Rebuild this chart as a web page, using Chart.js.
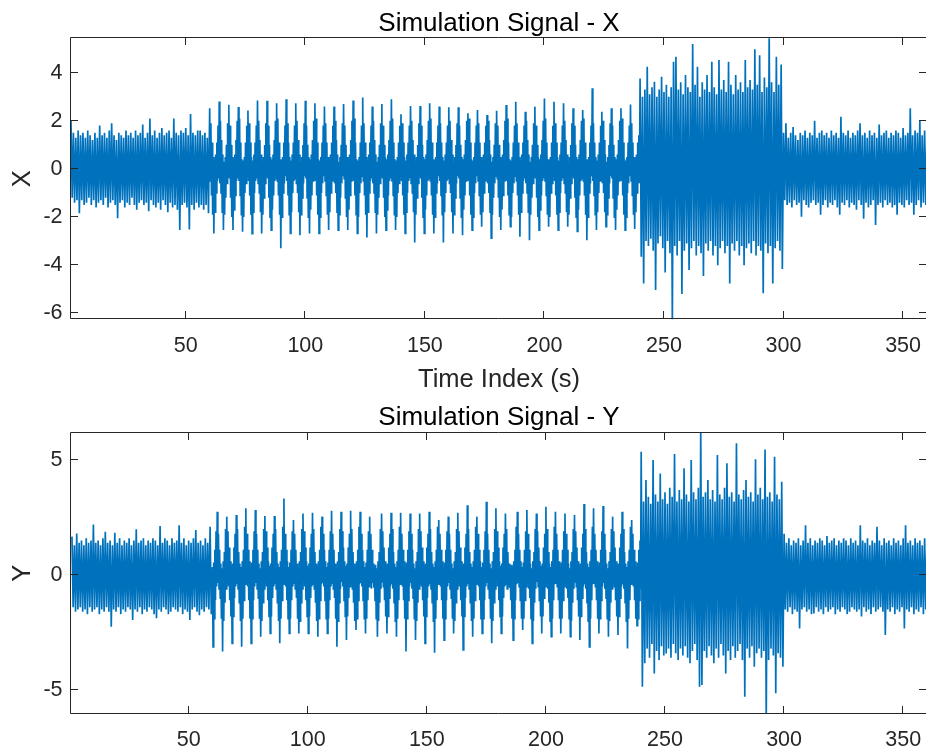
<!DOCTYPE html>
<html>
<head>
<meta charset="utf-8">
<script src="https://cdn.jsdelivr.net/npm/chart.js@4.4.1/dist/chart.umd.min.js"></script>
<style>
  html, body { margin: 0; padding: 0; background: #ffffff; width: 926px; height: 751px; overflow: hidden; }
  .panel { position: absolute; left: 0; }
  #p1 { top: 0; }
  #p2 { top: 395px; }
</style>
</head>
<body>
<div class="panel" id="p1"><canvas id="cX" width="930" height="395"></canvas></div>
<div class="panel" id="p2"><canvas id="cY" width="930" height="356"></canvas></div>
<script>
// ---------------- DATA ----------------
// Each segment lists successive samples that swing between the upper and lower
// edge of the trace; "start" is the time of the first sample, "step" the spacing (s).
const xTicksTime = [50, 100, 150, 200, 250, 300, 350];
const yTicksX = [-6, -4, -2, 0, 2, 4];
const yTicksY = [-5, 0, 5];

// ---- Signal X ----
// quiet noise, t = 2 .. 59.5 (step 0.5)
const xQuiet1 = [
  2.0,-1.2, 1.5,-1.4, 1.3,-1.3, 1.6,-1.84, 1.4,-1.3, 1.5,-1.5, 1.3,-1.4, 1.6,-1.2, 1.4,-1.5, 1.2,-1.3,
  1.5,-1.6, 1.3,-1.4, 1.8,-1.3, 1.4,-1.5, 1.5,-1.2, 1.3,-1.6, 1.6,-1.4, 1.9,-1.3, 1.4,-1.5, 1.2,-2.05,
  1.5,-1.4, 1.4,-1.3, 1.3,-1.6, 1.6,-1.4, 1.4,-1.5, 1.5,-1.2, 1.3,-1.5, 1.6,-1.7, 1.4,-1.4, 1.5,-1.3,
  1.85,-1.5, 1.3,-1.4, 1.5,-1.76, 2.1,-1.3, 1.4,-1.5, 1.6,-1.6, 1.3,-1.4, 1.5,-1.7, 1.7,-1.3, 1.4,-1.5,
  1.5,-1.8, 1.6,-1.4, 1.3,-1.6, 2.1,-1.5, 1.5,-1.7, 1.4,-2.54, 1.6,-1.5, 1.5,-1.4, 1.7,-1.6, 1.4,-2.52,
  2.28,-1.5, 1.5,-1.7, 1.4,-1.4, 1.6,-1.6, 1.6,-1.5, 1.4,-1.7, 1.5,-1.5, 1.3,-1.84
];
// oscillating part, t = 60 .. 239.75 (step 0.25, one row = one 4 s cycle)
const xOscillation = [
  2.52,-0.5,1.9,-1.1,1.1,-1.9,0.5,-2.68,0.35,-1.8,0.6,-1.0,1.1,-0.5,1.8,-0.4,
  2.80,-0.6,2.0,-1.0,1.2,-1.8,0.6,-2.54,0.3,-1.9,0.5,-1.2,1.0,-0.6,1.9,-0.3,
  2.67,-0.4,1.8,-1.2,1.0,-2.0,0.5,-2.54,0.4,-1.7,0.6,-1.1,1.2,-0.5,2.0,-0.4,
  2.57,-0.5,2.1,-1.1,1.1,-1.9,0.4,-2.61,0.35,-2.0,0.5,-1.0,1.1,-0.6,1.8,-0.3,
  2.43,-0.5,1.9,-1.1,1.1,-1.9,0.5,-2.69,0.35,-1.8,0.6,-1.0,1.1,-0.5,1.8,-0.4,
  2.84,-0.6,2.0,-1.0,1.2,-1.8,0.6,-2.68,0.3,-1.9,0.5,-1.2,1.0,-0.6,1.9,-0.3,
  2.83,-0.4,1.8,-1.2,1.0,-2.0,0.5,-2.54,0.4,-1.7,0.6,-1.1,1.2,-0.5,2.0,-0.4,
  2.73,-0.5,2.1,-1.1,1.1,-1.9,0.4,-3.30,0.35,-2.0,0.5,-1.0,1.1,-0.6,1.8,-0.3,
  2.90,-0.5,1.9,-1.1,1.1,-1.9,0.5,-2.68,0.35,-1.8,0.6,-1.0,1.1,-0.5,1.8,-0.4,
  2.73,-0.6,2.0,-1.0,1.2,-1.8,0.6,-2.76,0.3,-1.9,0.5,-1.2,1.0,-0.6,1.9,-0.3,
  2.83,-0.4,1.8,-1.2,1.0,-2.0,0.5,-2.68,0.4,-1.7,0.6,-1.1,1.2,-0.5,2.0,-0.4,
  2.73,-0.5,2.1,-1.1,1.1,-1.9,0.4,-2.68,0.35,-2.0,0.5,-1.0,1.1,-0.6,1.8,-0.3,
  2.59,-0.5,1.9,-1.1,1.1,-1.9,0.5,-2.54,0.35,-1.8,0.6,-1.0,1.1,-0.5,1.8,-0.4,
  2.59,-0.6,2.0,-1.0,1.2,-1.8,0.6,-2.54,0.3,-1.9,0.5,-1.2,1.0,-0.6,1.9,-0.3,
  2.70,-0.4,1.8,-1.2,1.0,-2.0,0.5,-2.54,0.4,-1.7,0.6,-1.1,1.2,-0.5,2.0,-0.4,
  2.84,-0.5,2.1,-1.1,1.1,-1.9,0.4,-2.68,0.35,-2.0,0.5,-1.0,1.1,-0.6,1.8,-0.3,
  2.97,-0.5,1.9,-1.1,1.1,-1.9,0.5,-2.85,0.35,-1.8,0.6,-1.0,1.1,-0.5,1.8,-0.4,
  2.59,-0.6,2.0,-1.0,1.2,-1.8,0.6,-2.68,0.3,-1.9,0.5,-1.2,1.0,-0.6,1.9,-0.3,
  2.70,-0.4,1.8,-1.2,1.0,-2.0,0.5,-2.54,0.4,-1.7,0.6,-1.1,1.2,-0.5,2.0,-0.4,
  2.90,-0.5,2.1,-1.1,1.1,-1.9,0.4,-2.54,0.35,-2.0,0.5,-1.0,1.1,-0.6,1.8,-0.3,
  2.27,-0.5,1.9,-1.1,1.1,-1.9,0.5,-2.68,0.35,-1.8,0.6,-1.0,1.1,-0.5,1.8,-0.4,
  2.62,-0.6,2.0,-1.0,1.2,-1.8,0.6,-3.06,0.3,-1.9,0.5,-1.2,1.0,-0.6,1.9,-0.3,
  2.62,-0.4,1.8,-1.2,1.0,-2.0,0.5,-2.68,0.4,-1.7,0.6,-1.1,1.2,-0.5,2.0,-0.4,
  2.73,-0.5,2.1,-1.1,1.1,-1.9,0.4,-2.68,0.35,-2.0,0.5,-1.0,1.1,-0.6,1.8,-0.3,
  2.59,-0.5,1.9,-1.1,1.1,-1.9,0.5,-3.06,0.35,-1.8,0.6,-1.0,1.1,-0.5,1.8,-0.4,
  2.56,-0.6,2.0,-1.0,1.2,-1.8,0.6,-2.68,0.3,-1.9,0.5,-1.2,1.0,-0.6,1.9,-0.3,
  2.56,-0.4,1.8,-1.2,1.0,-2.0,0.5,-2.76,0.4,-1.7,0.6,-1.1,1.2,-0.5,2.0,-0.4,
  2.31,-0.5,2.1,-1.1,1.1,-1.9,0.4,-2.54,0.35,-2.0,0.5,-1.0,1.1,-0.6,1.8,-0.3,
  2.45,-0.5,1.9,-1.1,1.1,-1.9,0.5,-2.40,0.35,-1.8,0.6,-1.0,1.1,-0.5,1.8,-0.4,
  2.24,-0.6,2.0,-1.0,1.2,-1.8,0.6,-2.88,0.3,-1.9,0.5,-1.2,1.0,-0.6,1.9,-0.3,
  2.42,-0.4,1.8,-1.2,1.0,-2.0,0.5,-2.54,0.4,-1.7,0.6,-1.1,1.2,-0.5,2.0,-0.4,
  2.66,-0.5,2.1,-1.1,1.1,-1.9,0.4,-2.40,0.35,-2.0,0.5,-1.0,1.1,-0.6,1.8,-0.3,
  2.79,-0.5,1.9,-1.1,1.1,-1.9,0.5,-2.82,0.35,-1.8,0.6,-1.0,1.1,-0.5,1.8,-0.4,
  2.38,-0.6,2.0,-1.0,1.2,-1.8,0.6,-2.96,0.3,-1.9,0.5,-1.2,1.0,-0.6,1.9,-0.3,
  2.59,-0.4,1.8,-1.2,1.0,-2.0,0.5,-2.54,0.4,-1.7,0.6,-1.1,1.2,-0.5,2.0,-0.4,
  2.93,-0.5,2.1,-1.1,1.1,-1.9,0.4,-2.40,0.35,-2.0,0.5,-1.0,1.1,-0.6,1.8,-0.3,
  2.79,-0.5,1.9,-1.1,1.1,-1.9,0.5,-2.54,0.35,-1.8,0.6,-1.0,1.1,-0.5,1.8,-0.4,
  2.73,-0.6,2.0,-1.0,1.2,-1.8,0.6,-2.40,0.3,-1.9,0.5,-1.2,1.0,-0.6,1.9,-0.3,
  2.52,-0.4,1.8,-1.2,1.0,-2.0,0.5,-2.60,0.4,-1.7,0.6,-1.1,1.2,-0.5,2.0,-0.4,
  2.45,-0.5,2.1,-1.1,1.1,-1.9,0.4,-2.96,0.35,-2.0,0.5,-1.0,1.1,-0.6,1.8,-0.3,
  3.35,-0.5,1.9,-1.1,1.1,-1.9,0.5,-2.54,0.35,-1.8,0.6,-1.0,1.1,-0.5,1.8,-0.4,
  2.38,-0.6,2.0,-1.0,1.2,-1.8,0.6,-2.40,0.3,-1.9,0.5,-1.2,1.0,-0.6,1.9,-0.3,
  2.52,-0.4,1.8,-1.2,1.0,-2.0,0.5,-2.54,0.4,-1.7,0.6,-1.1,1.2,-0.5,2.0,-0.4,
  2.52,-0.5,2.1,-1.1,1.1,-1.9,0.4,-2.54,0.35,-2.0,0.5,-1.0,1.1,-0.6,1.8,-0.3,
  2.68,-0.5,1.9,-1.1,1.1,-1.9,0.5,-2.50,0.35,-1.8,0.6,-1.0,1.1,-0.5,1.4,-0.6
];
// strong burst, t = 240 .. 299.5 (step 0.5)
const xBurst = [
  3.76,-3.65, 3.0,-4.76, 3.3,-3.0, 4.25,-3.2, 3.1,-2.9, 3.4,-3.4, 3.62,-5.03, 3.0,-3.1, 3.3,-2.8, 3.83,-3.3,
  3.2,-4.3, 3.5,-3.0, 3.0,-3.5, 3.4,-6.4, 4.46,-3.2, 4.66,-3.6, 3.3,-3.0, 3.6,-5.2, 3.1,-3.4, 3.9,-3.1,
  3.4,-4.2, 3.2,-3.3, 5.19,-3.0, 3.5,-3.6, 4.25,-3.2, 3.0,-3.5, 3.6,-4.45, 3.3,-3.1, 3.9,-3.4, 3.2,-3.0,
  4.46,-3.6, 3.4,-3.2, 3.1,-4.0, 4.53,-3.3, 3.3,-3.0, 3.7,-3.5, 3.2,-3.2, 4.46,-4.76, 3.5,-3.1, 3.1,-3.4,
  3.9,-3.0, 3.3,-3.6, 3.6,-3.2, 3.2,-4.0, 4.53,-3.3, 3.4,-3.1, 3.7,-3.5, 3.3,-3.0, 4.97,-3.6, 3.5,-3.2,
  4.73,-3.4, 3.2,-5.17, 3.8,-3.1, 3.4,-3.5, 5.6,-3.2, 3.6,-4.76, 3.2,-3.3, 4.66,-3.0, 3.5,-3.4, 4.34,-4.16
];
// quiet noise, t = 300 .. 360 (step 0.5)
const xQuiet2 = [
  1.5,-1.3, 1.9,-1.5, 1.3,-1.4, 1.5,-1.6, 1.74,-1.3, 1.4,-1.5, 1.2,-1.4, 1.5,-1.99, 1.4,-1.3, 1.6,-1.5,
  1.3,-1.6, 1.5,-1.4, 1.4,-1.3, 2.0,-1.5, 1.3,-1.4, 1.5,-1.9, 1.6,-1.5, 1.4,-1.3, 1.5,-1.6, 1.3,-1.4,
  1.6,-1.5, 1.4,-1.3, 1.5,-1.6, 1.3,-1.9, 2.17,-1.4, 1.5,-1.5, 1.4,-1.3, 1.6,-1.6, 1.3,-1.4, 1.5,-1.5,
  1.4,-1.7, 1.6,-1.3, 1.9,-1.5, 1.4,-2.07, 1.5,-1.4, 1.3,-1.6, 1.6,-1.5, 1.4,-1.3, 1.5,-2.33, 1.3,-1.5,
  1.85,-1.4, 1.4,-1.6, 1.5,-1.3, 1.6,-1.5, 1.3,-1.4, 1.5,-1.6, 1.4,-1.5, 1.6,-1.9, 1.5,-1.4, 1.3,-1.5,
  1.7,-1.6, 1.4,-1.3, 1.5,-1.5, 2.52,-1.4, 1.4,-1.9, 1.6,-1.5, 1.5,-1.3, 2.0,-1.6, 1.4,-1.4, 1.6,-1.5,
  1.3
];

// ---- Signal Y ----
// quiet noise, t = 1 .. 59.5 (step 0.5)
const yQuiet1 = [
  1.67,-1.4, 1.3,-1.6, 1.81,-1.5, 1.4,-1.4, 1.5,-1.6, 1.3,-1.5, 1.6,-1.7, 1.4,-1.4, 1.5,-1.6, 2.2,-1.5,
  1.4,-1.4, 1.5,-1.7, 1.3,-1.5, 1.6,-1.6, 1.88,-1.4, 1.4,-1.6, 1.5,-2.25, 1.3,-1.5, 1.84,-1.6, 1.4,-1.4,
  1.6,-1.7, 1.3,-1.5, 1.5,-1.6, 1.4,-1.4, 1.6,-1.5, 1.3,-1.96, 1.5,-1.5, 1.99,-1.6, 1.4,-1.4, 1.5,-1.7,
  1.6,-1.5, 1.3,-1.6, 1.5,-1.4, 1.4,-1.5, 1.6,-1.7, 1.5,-1.88, 1.3,-1.5, 2.13,-1.6, 1.4,-1.4, 1.6,-1.5,
  1.5,-1.7, 1.3,-1.6, 1.6,-1.4, 1.4,-1.5, 1.5,-1.6, 2.17,-1.4, 1.4,-1.7, 1.6,-1.5, 1.3,-1.6, 1.5,-1.96,
  1.4,-1.5, 1.6,-1.4, 1.96,-1.6, 1.4,-1.75, 1.5,-1.5, 1.3,-1.6, 1.6,-1.4, 1.4,-1.5, 2.1,-1.7
];
// oscillating part, t = 60 .. 239.75 (step 0.25)
const yOscillation = [
  0.35,-3.12,0.55,-1.9,1.1,-1.1,1.9,-0.5,2.75,-0.35,1.8,-0.6,1.1,-1.0,0.5,-1.9,
  0.3,-3.33,0.6,-2.0,1.0,-1.2,2.0,-0.6,2.54,-0.3,1.9,-0.5,1.2,-1.1,0.6,-1.8,
  0.4,-2.97,0.5,-1.8,1.2,-1.0,1.8,-0.5,2.61,-0.4,2.0,-0.6,1.0,-1.2,0.5,-2.0,
  0.35,-3.12,0.6,-1.9,1.1,-1.1,2.1,-0.4,2.90,-0.35,1.8,-0.5,1.1,-1.1,0.6,-1.9,
  0.35,-2.97,0.55,-1.9,1.1,-1.1,1.9,-0.5,2.83,-0.35,1.8,-0.6,1.1,-1.0,0.5,-1.9,
  0.3,-2.68,0.6,-2.0,1.0,-1.2,2.0,-0.6,2.57,-0.3,1.9,-0.5,1.2,-1.1,0.6,-1.8,
  0.4,-2.54,0.5,-1.8,1.2,-1.0,1.8,-0.5,2.57,-0.4,2.0,-0.6,1.0,-1.2,0.5,-2.0,
  0.35,-2.97,0.6,-1.9,1.1,-1.1,2.1,-0.4,3.33,-0.35,1.8,-0.5,1.1,-1.1,0.6,-1.9,
  0.35,-2.54,0.55,-1.9,1.1,-1.1,1.9,-0.5,2.39,-0.35,1.8,-0.6,1.1,-1.0,0.5,-1.9,
  0.3,-2.54,0.6,-2.0,1.0,-1.2,2.0,-0.6,2.68,-0.3,1.9,-0.5,1.2,-1.1,0.6,-1.8,
  0.4,-2.54,0.5,-1.8,1.2,-1.0,1.8,-0.5,2.71,-0.4,2.0,-0.6,1.0,-1.2,0.5,-2.0,
  0.35,-2.68,0.6,-1.9,1.1,-1.1,2.1,-0.4,2.54,-0.35,1.8,-0.5,1.1,-1.1,0.6,-1.9,
  0.35,-2.54,0.55,-1.9,1.1,-1.1,1.9,-0.5,2.80,-0.35,1.8,-0.6,1.1,-1.0,0.5,-1.9,
  0.3,-3.12,0.6,-2.0,1.0,-1.2,2.0,-0.6,2.75,-0.3,1.9,-0.5,1.2,-1.1,0.6,-1.8,
  0.4,-2.83,0.5,-1.8,1.2,-1.0,1.8,-0.5,2.80,-0.4,2.0,-0.6,1.0,-1.2,0.5,-2.0,
  0.35,-2.39,0.6,-1.9,1.1,-1.1,2.1,-0.4,2.75,-0.35,1.8,-0.5,1.1,-1.1,0.6,-1.9,
  0.35,-2.54,0.55,-1.9,1.1,-1.1,1.9,-0.5,2.54,-0.35,1.8,-0.6,1.1,-0.35,0.5,-0.55,
  0.35,-1.1,0.45,-1.9,
  0.3,-2.68,0.6,-2.0,1.0,-1.2,2.0,-0.6,2.68,-0.3,1.9,-0.5,1.2,-1.1,0.6,-1.8,
  0.4,-2.54,0.5,-1.8,1.2,-1.0,1.8,-0.5,2.71,-0.4,2.0,-0.6,1.0,-1.2,0.5,-2.0,
  0.35,-2.68,0.6,-1.9,1.1,-1.1,2.1,-0.4,2.71,-0.35,1.8,-0.5,1.1,-1.1,0.6,-1.9,
  0.35,-3.33,0.55,-1.9,1.1,-1.1,1.9,-0.5,2.68,-0.35,1.8,-0.6,1.1,-1.0,0.5,-1.9,
  0.3,-2.83,0.6,-2.0,1.0,-1.2,2.0,-0.6,2.68,-0.3,1.9,-0.5,1.2,-1.1,0.6,-1.8,
  0.4,-2.97,0.5,-1.8,1.2,-1.0,1.8,-0.5,2.75,-0.4,2.0,-0.6,1.0,-1.2,0.5,-2.0,
  0.35,-3.38,0.6,-1.9,1.1,-1.1,2.1,-0.4,2.39,-0.35,1.8,-0.5,1.1,-1.1,0.6,-1.9,
  0.35,-2.83,0.55,-1.9,1.1,-1.1,1.9,-0.5,2.54,-0.35,1.8,-0.6,1.1,-1.0,0.5,-1.9,
  0.3,-2.54,0.6,-2.0,1.0,-1.2,2.0,-0.6,2.71,-0.3,1.9,-0.5,1.2,-1.1,0.6,-1.8,
  0.4,-3.26,0.5,-1.8,1.2,-1.0,1.8,-0.5,3.04,-0.4,2.0,-0.6,1.0,-1.2,0.5,-2.0,
  0.35,-2.68,0.6,-1.9,1.1,-1.1,2.1,-0.4,2.54,-0.35,1.8,-0.5,1.1,-1.1,0.6,-1.9,
  0.35,-2.54,0.55,-1.9,1.1,-1.1,1.9,-0.5,3.19,-0.35,1.8,-0.6,1.1,-1.0,0.5,-1.9,
  0.3,-2.97,0.6,-2.0,1.0,-1.2,2.0,-0.6,2.90,-0.3,1.9,-0.5,1.2,-1.1,0.6,-1.8,
  0.4,-2.54,0.5,-1.8,1.2,-1.0,1.8,-0.5,2.68,-0.4,2.0,-0.6,1.0,-0.35,0.5,-0.55,
  0.35,-1.1,0.45,-1.9,
  0.35,-2.83,0.6,-1.9,1.1,-1.1,2.1,-0.4,2.75,-0.35,1.8,-0.5,1.1,-1.1,0.6,-1.9,
  0.35,-2.39,0.55,-1.9,1.1,-1.1,1.9,-0.5,2.83,-0.35,1.8,-0.6,1.1,-1.0,0.5,-1.9,
  0.3,-2.97,0.6,-2.0,1.0,-1.2,2.0,-0.6,2.68,-0.3,1.9,-0.5,1.2,-1.1,0.6,-1.8,
  0.4,-2.54,0.5,-1.8,1.2,-1.0,1.8,-0.5,2.97,-0.4,2.0,-0.6,1.0,-1.2,0.5,-2.0,
  0.35,-2.68,0.6,-1.9,1.1,-1.1,2.1,-0.4,2.75,-0.35,1.8,-0.5,1.1,-1.1,0.6,-1.9,
  0.35,-2.54,0.55,-1.9,1.1,-1.1,1.9,-0.5,2.68,-0.35,1.8,-0.6,1.1,-1.0,0.5,-1.9,
  0.3,-2.68,0.6,-2.0,1.0,-1.2,2.0,-0.6,2.61,-0.3,1.9,-0.5,1.2,-1.1,0.6,-1.8,
  0.4,-2.83,0.5,-1.8,1.2,-1.0,1.8,-0.5,3.09,-0.4,2.0,-0.6,1.0,-1.2,0.5,-2.0,
  0.35,-3.12,0.6,-1.9,1.1,-1.1,2.1,-0.4,2.90,-0.35,1.8,-0.5,1.1,-1.1,0.6,-1.9,
  0.35,-2.54,0.55,-1.9,1.1,-1.1,1.9,-0.5,3.00,-0.35,1.8,-0.6,1.1,-1.0,0.5,-1.9,
  0.3,-2.68,0.6,-2.0,1.0,-1.2,2.0,-0.6,2.54,-0.3,1.9,-0.5,1.2,-1.1,0.6,-1.8,
  0.4,-2.61,0.5,-1.8,1.2,-1.0,1.8,-0.5,2.75,-0.4,2.0,-0.6,1.0,-1.2,0.5,-2.0,
  0.35,-3.19,0.6,-1.9,1.1,-1.1,2.1,-0.4,2.39,-0.35,1.8,-0.5,1.1,-1.1,0.6,-1.9,
  0.35,-2.2,0.55,-1.9,1.1,-1.1,1.5,-0.6
];
// strong burst, t = 240 .. 299.5 (step 0.5)
const yBurst = [
  5.36,-4.86, 3.2,-3.84, 4.13,-3.2, 3.4,-3.6, 3.1,-3.0, 5.0,-4.28, 3.5,-3.3, 3.2,-3.7, 4.42,-3.1, 3.3,-3.5,
  3.6,-3.41, 3.1,-3.2, 3.8,-3.6, 3.4,-3.0, 5.26,-3.4, 3.2,-3.7, 3.7,-3.2, 3.3,-3.5, 4.64,-3.1, 3.5,-3.6,
  3.2,-3.84, 5.0,-3.3, 3.6,-3.0, 3.3,-3.7, 3.8,-4.86, 6.4,-4.78, 3.4,-3.3, 3.6,-3.6, 4.13,-3.1, 3.3,-3.5,
  3.7,-3.84, 3.2,-3.2, 5.22,-3.6, 3.5,-3.0, 3.3,-3.5, 3.8,-4.28, 4.86,-3.3, 3.4,-3.7, 3.6,-3.1, 3.2,-3.6,
  5.73,-3.3, 3.5,-3.0, 3.3,-3.7, 3.7,-5.29, 4.13,-3.2, 3.4,-3.6, 3.6,-3.1, 3.2,-3.99, 5.03,-3.4, 3.5,-3.2,
  3.8,-3.6, 3.3,-3.3, 5.46,-6.3, 3.4,-3.7, 3.6,-3.2, 3.2,-3.5, 5.14,-5.14, 3.5,-3.4, 3.3,-3.6, 4.06,-3.99
];
// quiet noise, t = 300 .. 360 (step 0.5)
const yQuiet2 = [
  1.8,-1.5, 1.4,-1.6, 1.6,-1.4, 1.3,-1.7, 1.5,-1.5, 1.4,-1.6, 1.6,-2.32, 1.3,-1.5, 1.5,-1.4, 2.17,-1.6,
  1.4,-1.5, 1.6,-1.7, 1.3,-1.67, 1.5,-1.4, 1.4,-1.6, 1.6,-1.5, 1.5,-1.7, 1.3,-1.4, 1.7,-1.6, 1.4,-1.5,
  1.5,-1.4, 1.6,-1.7, 1.3,-1.5, 1.5,-1.6, 1.4,-1.4, 1.6,-1.5, 1.5,-1.7, 1.3,-1.6, 1.6,-1.4, 1.4,-1.5,
  1.5,-1.6, 1.3,-1.5, 2.17,-1.8, 1.5,-1.4, 1.4,-1.6, 1.6,-1.5, 1.3,-1.7, 1.5,-1.4, 1.4,-1.6, 2.1,-1.5,
  1.5,-1.4, 1.3,-1.6, 1.6,-2.61, 1.4,-1.5, 1.5,-1.6, 1.3,-1.4, 1.6,-1.7, 1.4,-1.5, 1.5,-1.6, 1.3,-1.4,
  1.6,-2.32, 2.17,-1.5, 1.4,-1.6, 1.5,-1.4, 1.3,-1.7, 1.6,-1.5, 1.4,-1.6, 1.5,-1.4, 1.3,-1.7, 1.6,-1.5,
  1.4
];

const xSegments = [
  { values: xQuiet1, start: 2, step: 0.5 },
  { values: xOscillation, start: 60, step: 0.25 },
  { values: xBurst, start: 240, step: 0.5 },
  { values: xQuiet2, start: 300, step: 0.5 }
];
const ySegments = [
  { values: yQuiet1, start: 1, step: 0.5 },
  { values: yOscillation, start: 60, step: 0.25 },
  { values: yBurst, start: 240, step: 0.5 },
  { values: yQuiet2, start: 300, step: 0.5 }
];

// ---------------- STYLE ----------------
const FONT = "'Liberation Sans', Arial, Helvetica, sans-serif";
const AXIS_COLOR = '#262626';
const LINE_COLOR = '#0072BD';

const toPoints = segs => segs.flatMap(s => s.values.map((v, i) => ({ x: s.start + i * s.step, y: v })));

// MATLAB-like box with inward ticks on all four sides; title centred over the axes
const axesBox = {
  id: 'axesBox',
  afterLayout(chart) {
    const t = chart.titleBlock;
    if (t) { t.left = chart.chartArea.left; t.right = chart.chartArea.right; }
  },
  afterDraw(chart) {
    const { ctx, chartArea: a } = chart;
    const xs = chart.scales.x, ys = chart.scales.y;
    const L = 7.5;
    ctx.save();
    ctx.strokeStyle = AXIS_COLOR;
    ctx.lineWidth = 1;
    ctx.beginPath();
    const l = Math.round(a.left) - 0.5, r = Math.round(a.right) - 0.5;
    const tp = Math.round(a.top) - 0.5, b = Math.round(a.bottom) - 0.5;
    ctx.rect(l, tp, r - l, b - tp);
    xs.ticks.forEach(tk => {
      const p = Math.round(xs.getPixelForValue(tk.value)) - 0.5;
      ctx.moveTo(p, b); ctx.lineTo(p, b - L);
      ctx.moveTo(p, tp); ctx.lineTo(p, tp + L);
    });
    ys.ticks.forEach(tk => {
      const p = Math.round(ys.getPixelForValue(tk.value)) - 0.5;
      ctx.moveTo(l, p); ctx.lineTo(l + L, p);
      ctx.moveTo(r, p); ctx.lineTo(r - L, p);
    });
    ctx.stroke();
    ctx.restore();
  }
};

function makeChart(canvasId, cfg) {
  return new Chart(document.getElementById(canvasId), {
    type: 'line',
    data: {
      datasets: [{
        data: cfg.points,
        borderColor: LINE_COLOR,
        borderWidth: 1.7,
        pointRadius: 0,
        tension: 0,
        fill: false,
        clip: 0
      }]
    },
    options: {
      responsive: false,
      animation: false,
      events: [],
      parsing: false,
      normalized: true,
      layout: { autoPadding: false, padding: { left: 0, right: 3, top: 0, bottom: 0 } },
      plugins: {
        legend: { display: false },
        tooltip: { enabled: false },
        title: {
          display: true,
          text: cfg.title,
          color: '#000000',
          font: { family: FONT, size: 26, weight: 'normal', lineHeight: 1.0 },
          padding: cfg.titlePad
        }
      },
      scales: {
        x: {
          type: 'linear',
          position: 'bottom',
          min: cfg.xMin, max: 360,
          afterBuildTicks: s => { s.ticks = xTicksTime.map(v => ({ value: v })); },
          afterFit: s => { s.height = cfg.xAxisHeight; s.paddingLeft = 0; s.paddingRight = 0; },
          grid: { display: false, drawTicks: false },
          border: { display: false },
          ticks: {
            color: AXIS_COLOR, padding: cfg.xTickPad, maxRotation: 0, autoSkip: false,
            font: { family: FONT, size: 21.5 },
            callback: v => String(v)
          },
          title: cfg.xTitle ? {
            display: true, text: cfg.xTitle, color: AXIS_COLOR,
            font: { family: FONT, size: 25.5, lineHeight: 1.2 },
            padding: { top: 0, bottom: 0 }
          } : { display: false }
        },
        y: {
          type: 'linear',
          position: 'left',
          min: cfg.yMin, max: cfg.yMax,
          afterBuildTicks: s => { s.ticks = cfg.yTicks.map(v => ({ value: v })); },
          afterFit: s => { s.width = 71; s.paddingTop = 0; s.paddingBottom = 0; },
          grid: { display: false, drawTicks: false },
          border: { display: false },
          ticks: {
            color: AXIS_COLOR, padding: 8.5, autoSkip: false,
            font: { family: FONT, size: 21.5 },
            callback: v => String(v)
          },
          title: {
            display: true, text: cfg.yTitle, color: AXIS_COLOR,
            font: { family: FONT, size: 25.5, lineHeight: 1.2 },
            padding: { top: 8, bottom: 0 }
          }
        }
      }
    },
    plugins: [axesBox]
  });
}

makeChart('cX', {
  points: toPoints(xSegments),
  title: 'Simulation Signal - X',
  titlePad: { top: 11.2, bottom: 1.1 },
  xMin: 2, xAxisHeight: 75.7, xTitle: 'Time Index (s)', xTickPad: 14,
  yMin: -6.25, yMax: 5.43, yTicks: yTicksX, yTitle: 'X'
});

makeChart('cY', {
  points: toPoints(ySegments),
  title: 'Simulation Signal - Y',
  titlePad: { top: 10, bottom: 1.7 },
  xMin: 0.6, xAxisHeight: 37.3, xTitle: null, xTickPad: 13.5,
  yMin: -6.03, yMax: 6.19, yTicks: yTicksY, yTitle: 'Y'
});
</script>
</body>
</html>
